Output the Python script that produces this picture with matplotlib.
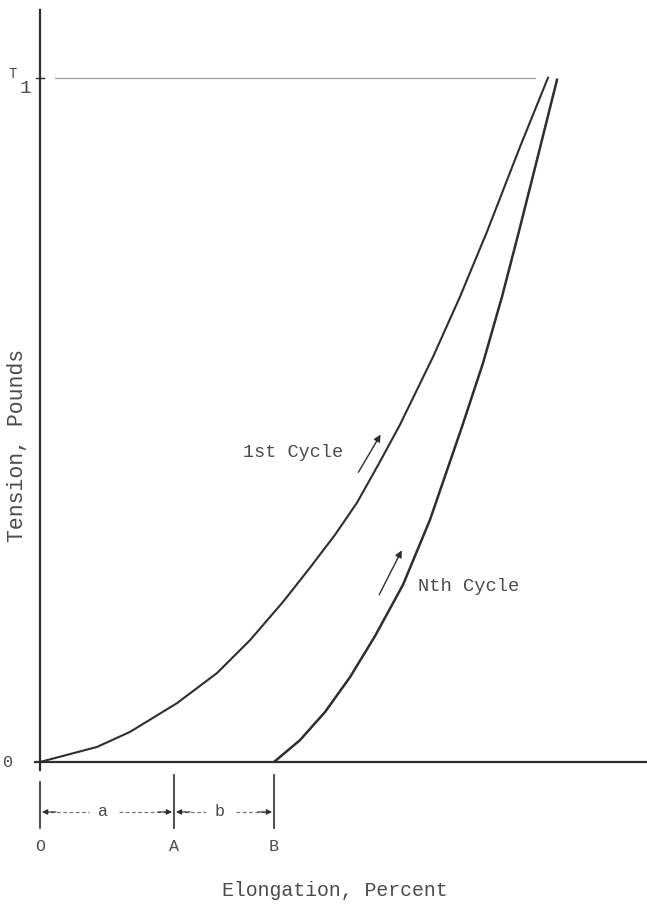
import numpy as np
import matplotlib.pyplot as plt

# curve data (x: elongation, arbitrary units; y: tension as fraction of T1)
first_x = [0, 5.7, 9.0, 13.7, 17.7, 21.0, 24.3, 27.0, 29.5, 31.7, 34.0, 36.0, 39.3, 42.0, 44.7, 48.0, 50.8]
first_y = [0, 0.022, 0.044, 0.086, 0.130, 0.178, 0.234, 0.284, 0.332, 0.379, 0.439, 0.493,
           0.592, 0.680, 0.775, 0.899, 1.0]
nth_x = [23.4, 26.0, 28.5, 31.0, 33.5, 36.3, 39.0, 42.2, 44.3, 46.2, 47.8, 49.7, 51.7]
nth_y = [0, 0.032, 0.073, 0.124, 0.184, 0.259, 0.354, 0.490, 0.583, 0.680, 0.770, 0.880, 0.997]

t1 = 1.0
marks = ['O', 'A', 'B']
mark_x = [0, 13.4, 23.4]
spans = ['a', 'b']

ink = '#2e2e2e'
txt = '#4a4a4a'
mono = ['Liberation Mono', 'DejaVu Sans Mono']

fig = plt.figure(figsize=(6.47, 9.05), dpi=100)
ax = fig.add_axes([40 / 647, 143 / 905, 607 / 647, 752 / 905])
ax.set_xlim(0, 60.7)
ax.set_ylim(0, 1.099)

for s in ['top', 'right']:
    ax.spines[s].set_visible(False)
for s in ['left', 'bottom']:
    ax.spines[s].set_color(ink)
    ax.spines[s].set_linewidth(1.6)
ax.set_xticks([])
ax.set_yticks([])

# curves
ax.plot(first_x, first_y, color=ink, lw=1.5, solid_joinstyle='round')
ax.plot(nth_x, nth_y, color=ink, lw=1.8, solid_joinstyle='round')

# T1 level line
ax.plot([1.5, 49.5], [t1, t1], color='#9a9a9a', lw=0.9)
ax.plot([-0.4, 0.4], [t1, t1], color=ink, lw=1, clip_on=False)
ax.plot([-0.5, 0], [0, 0], color=ink, lw=1.6, clip_on=False)
ax.plot([0, 0], [0, -0.012], color=ink, lw=1.6, clip_on=False)

# axis labels
ax.text(-3.2, 0, '0', fontsize=12, color=txt, family=mono, ha='center', va='center')
ax.text(-2.7, 1.006, 'T', fontsize=10, color=txt, family=mono, ha='center', va='center')
ax.text(-1.5, 0.985, '1', fontsize=14, color=txt, family=mono, ha='center', va='center')
fig.text(18 / 647, 1 - 445 / 905, 'Tension, Pounds', rotation=90, fontsize=15.5,
         color=txt, family=mono, ha='center', va='center')
fig.text(335 / 647, 1 - 890 / 905, 'Elongation, Percent', fontsize=14.3,
         color=txt, family=mono, ha='center', va='center')

# curve labels and direction arrows
ax.text(20.3, 0.453, '1st Cycle', fontsize=13.3, color=txt, family=mono, ha='left', va='center')
ax.text(37.8, 0.257, 'Nth Cycle', fontsize=13.5, color=txt, family=mono, ha='left', va='center')
ax.annotate('', xy=(34.2, 0.482), xytext=(31.7, 0.420),
            arrowprops=dict(arrowstyle='-|>', color=ink, lw=1.0, mutation_scale=10))
ax.annotate('', xy=(36.3, 0.313), xytext=(33.8, 0.241),
            arrowprops=dict(arrowstyle='-|>', color=ink, lw=1.0, mutation_scale=10))

# dimension marks below the axis
for lab, mx in zip(marks, mark_x):
    top = -0.029 if lab == 'O' else -0.019
    ax.plot([mx, mx], [top, -0.096], color=ink, lw=1.2, clip_on=False)
    ax.text(mx, -0.124, lab, fontsize=12, color=txt, family=mono, ha='center', va='center',
            clip_on=False)

ydim = -0.073
for i, lab in enumerate(spans):
    x0, x1 = mark_x[i], mark_x[i + 1]
    mid = (x0 + x1) / 2 - 0.4
    left_end = mid - 1.4
    right_start = mid + 1.6
    ax.plot([x0 + 0.4, left_end], [ydim, ydim], color='#777777', lw=0.9, ls=(0, (3, 2)),
            clip_on=False)
    ax.plot([right_start, x1 - 0.4], [ydim, ydim], color='#777777', lw=0.9, ls=(0, (3, 2)),
            clip_on=False)
    ax.annotate('', xy=(x0 + 0.2, ydim), xytext=(x0 + 1.6, ydim), annotation_clip=False,
                arrowprops=dict(arrowstyle='-|>', color=ink, lw=0.8, mutation_scale=8,
                                shrinkA=0, shrinkB=0))
    ax.annotate('', xy=(x1 - 0.2, ydim), xytext=(x1 - 1.6, ydim), annotation_clip=False,
                arrowprops=dict(arrowstyle='-|>', color=ink, lw=0.8, mutation_scale=8,
                                shrinkA=0, shrinkB=0))
    ax.text(mid, ydim, lab, fontsize=12, color=txt, family=mono, ha='center', va='center',
            clip_on=False)

fig.savefig('out.png', dpi=100)
